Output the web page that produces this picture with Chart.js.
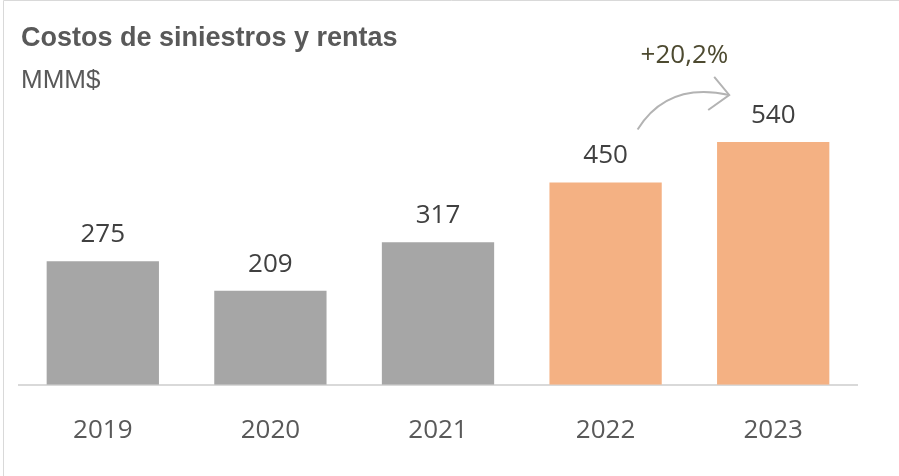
<!DOCTYPE html>
<html>
<head>
<meta charset="utf-8">
<script src="https://cdn.jsdelivr.net/npm/chart.js@4.4.1/dist/chart.umd.min.js"></script>
<style>
  html, body { margin: 0; padding: 0; background: #fff; }
  #wrap { width: 899px; height: 476px; position: relative; }
</style>
</head>
<body>
<div id="wrap"><canvas id="chart" width="899" height="476"></canvas></div>
<script>
// datos
const years = ['2019', '2020', '2021', '2022', '2023'];
const costos = [275, 209, 317, 450, 540];
const barColors = ['#a6a6a6', '#a6a6a6', '#a6a6a6', '#f4b183', '#f4b183'];
const growthLabel = '+20,2%';

// titulo, etiquetas y flecha
const extras = {
  id: 'extras',
  afterDraw(chart) {
    const ctx = chart.ctx;
    ctx.save();

    // marco
    ctx.strokeStyle = '#d9d9d9';
    ctx.lineWidth = 1;
    ctx.beginPath();
    ctx.moveTo(3.5, 476);
    ctx.lineTo(3.5, 0.5);
    ctx.lineTo(899, 0.5);
    ctx.stroke();

    ctx.textAlign = 'left';
    ctx.textBaseline = 'alphabetic';
    ctx.fillStyle = '#595959';
    ctx.font = 'bold 27px "Liberation Sans", Arial, sans-serif';
    ctx.fillText('Costos de siniestros y rentas', 21, 46);
    ctx.font = '26px "Liberation Sans", Arial, sans-serif';
    ctx.fillText('MMM$', 21, 88);

    // valores
    const meta = chart.getDatasetMeta(0);
    ctx.font = '26px "Open Sans", sans-serif';
    ctx.fillStyle = '#404040';
    ctx.textAlign = 'center';
    meta.data.forEach((bar, i) => {
      ctx.fillText(costos[i], bar.x, bar.y - 19);
    });

    // flecha de crecimiento
    const b1 = meta.data[3], b2 = meta.data[4];
    const sx = b1.x + 32, sy = b1.y - 53;
    const tx = b2.x - 44, ty = b2.y - 47;
    ctx.strokeStyle = '#b3b3b3';
    ctx.lineWidth = 2;
    ctx.beginPath();
    ctx.moveTo(sx, sy);
    ctx.quadraticCurveTo(sx + 30, sy - 48, tx, ty);
    ctx.stroke();
    ctx.beginPath();
    ctx.moveTo(tx - 15, ty - 18);
    ctx.lineTo(tx, ty);
    ctx.lineTo(tx - 21, ty + 15);
    ctx.stroke();

    ctx.fillStyle = '#4d4a30';
    ctx.fillText(growthLabel, (b1.x + b2.x) / 2 - 5, 63);

    ctx.restore();
  }
};

new Chart(document.getElementById('chart'), {
  type: 'bar',
  data: {
    labels: years,
    datasets: [{
      data: costos,
      backgroundColor: barColors,
      categoryPercentage: 1,
      barPercentage: 0.67
    }]
  },
  options: {
    responsive: false,
    animation: false,
    layout: { padding: { left: 19, right: 42, top: 70, bottom: 0 } },
    plugins: {
      legend: { display: false },
      tooltip: { enabled: false }
    },
    scales: {
      x: {
        grid: { display: false, drawTicks: false },
        border: { color: '#d9d9d9', width: 2 },
        ticks: {
          color: '#595959',
          font: { family: 'Open Sans', size: 26 },
          padding: 30
        }
      },
      y: {
        display: false,
        min: 0,
        max: 700
      }
    }
  },
  plugins: [extras]
});
</script>
</body>
</html>
